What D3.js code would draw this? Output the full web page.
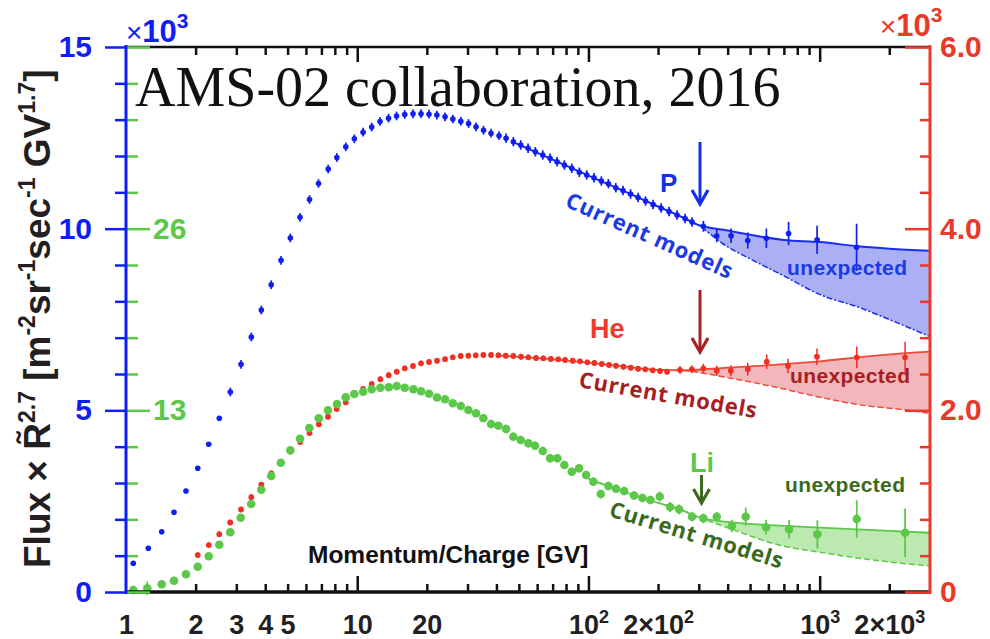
<!DOCTYPE html>
<html><head><meta charset="utf-8">
<script src="https://cdn.jsdelivr.net/npm/d3@7/dist/d3.min.js"></script>
<style>
html,body{margin:0;padding:0;background:#fff;}
svg{display:block;}
</style></head>
<body>
<svg id="chart" width="990" height="639"></svg>
<script>
// ---------------- DATA ----------------
// Proton (left blue axis, x10^3)
const pR = [1.075,1.249,1.427,1.613,1.817,2.043,2.279,2.532,2.826,3.144,3.483,3.848,4.246,4.682,5.136,5.656,6.218,6.802,7.490,8.162,8.926,9.716,10.60,11.55,12.55,13.66,14.79,16.05,17.43,18.88,20.44,22.10,23.98,25.92,28.06,30.30,32.65,35.18,37.91,41.06,44.02,47.33,50.95,54.81,58.93,63.45,68.24,73.14,78.66,84.70,91.34,98.33,105.7,113.7,122.0,131.3,141.1,152.1,163.9,176.6,190.3,206.1,223.2,241.6,261.7,280.6,314.1,358.8,413.9,488.7,588.0,733.8,974.6,1444];
const pV = [0.790,1.203,1.660,2.194,2.780,3.405,4.065,4.781,5.505,6.267,7.018,7.761,8.458,9.130,9.743,10.313,10.803,11.243,11.642,11.959,12.253,12.474,12.655,12.798,12.950,13.040,13.101,13.142,13.162,13.164,13.151,13.128,13.079,13.018,12.958,12.894,12.804,12.710,12.628,12.559,12.487,12.394,12.303,12.212,12.118,12.028,11.937,11.843,11.752,11.662,11.552,11.477,11.403,11.312,11.238,11.128,11.050,10.954,10.858,10.761,10.665,10.569,10.472,10.376,10.280,10.183,10.065,9.798,9.804,9.674,9.735,9.867,9.693,9.487];
const pE = [0.04,0.04,0.04,0.04,0.04,0.04,0.04,0.04,0.12,0.12,0.12,0.12,0.12,0.12,0.12,0.12,0.12,0.12,0.12,0.12,0.12,0.12,0.12,0.12,0.12,0.12,0.12,0.12,0.12,0.12,0.12,0.12,0.12,0.12,0.12,0.12,0.12,0.12,0.12,0.12,0.13,0.13,0.13,0.13,0.13,0.13,0.13,0.13,0.13,0.13,0.13,0.13,0.13,0.13,0.13,0.13,0.13,0.13,0.13,0.13,0.13,0.13,0.13,0.13,0.13,0.13,0.15,0.17,0.2,0.22,0.27,0.32,0.39,0.65];
// Helium (right red axis, x10^3)
const heR = [2.043,2.281,2.532,2.823,3.144,3.483,3.848,4.251,4.668,5.146,5.667,6.218,6.823,7.475,8.152,8.918,9.716,10.60,11.55,12.59,13.68,14.82,16.05,17.43,18.88,20.44,22.14,23.98,25.89,28.03,30.24,32.55,35.11,37.91,40.78,43.88,47.33,51.10,54.96,59.35,63.83,68.71,74.11,79.21,85.52,91.99,98.90,106.1,114.2,122.8,131.6,141.6,152.4,163.9,176.2,189.7,204.0,218.8,249.0,279.8,314.1,358.8,412.7,488.7,590.4,729.5,973.4,1447,2341];
const heV = [0.407,0.517,0.636,0.765,0.908,1.044,1.181,1.307,1.423,1.547,1.651,1.750,1.846,1.930,2.015,2.088,2.171,2.235,2.290,2.342,2.386,2.425,2.463,2.488,2.518,2.532,2.546,2.563,2.584,2.598,2.601,2.606,2.609,2.609,2.606,2.601,2.598,2.590,2.584,2.576,2.573,2.565,2.562,2.554,2.546,2.540,2.529,2.521,2.510,2.499,2.491,2.480,2.469,2.458,2.452,2.441,2.433,2.425,2.444,2.452,2.463,2.436,2.436,2.452,2.535,2.488,2.590,2.584,2.584];
const heE = [0.03,0.03,0.03,0.03,0.03,0.03,0.03,0.03,0.03,0.03,0.03,0.03,0.03,0.03,0.03,0.03,0.03,0.03,0.03,0.03,0.03,0.03,0.03,0.03,0.03,0.03,0.03,0.03,0.03,0.03,0.03,0.03,0.03,0.03,0.03,0.03,0.03,0.03,0.03,0.03,0.03,0.03,0.03,0.03,0.03,0.03,0.03,0.03,0.03,0.03,0.03,0.03,0.03,0.03,0.03,0.03,0.03,0.03,0.04,0.045,0.05,0.055,0.06,0.07,0.08,0.08,0.09,0.12,0.17];
// Lithium (green inner axis)
const liR = [1.075,1.236,1.427,1.613,1.817,2.043,2.279,2.532,2.823,3.134,3.479,3.845,4.246,4.673,5.136,5.656,6.205,6.817,7.475,8.177,8.918,9.716,10.60,11.55,12.59,13.68,14.82,16.05,17.49,18.88,20.44,22.14,23.98,25.89,28.03,30.24,32.65,35.11,37.91,40.78,44.02,47.33,50.95,54.96,58.75,63.45,68.24,73.36,78.66,84.70,91.07,97.63,105.0,113.0,122.0,131.6,142.6,157.5,171.1,185.3,203.4,225.4,246.6,280.6,314.1,358.8,416.8,479.0,586.3,737.6,977.5,1447,2341];
const liV = [0.143,0.265,0.551,0.809,1.267,1.811,2.555,3.385,4.272,5.317,6.297,7.314,8.301,9.253,10.140,10.963,11.736,12.430,13.003,13.454,13.933,14.169,14.334,14.506,14.620,14.649,14.742,14.620,14.506,14.362,14.191,13.919,13.797,13.504,13.311,13.024,12.788,12.430,12.022,11.901,11.665,11.113,10.877,10.641,10.469,10.090,9.568,9.568,9.088,8.609,8.852,8.373,7.893,7.013,7.586,7.392,7.228,6.906,6.727,6.584,6.834,6.083,5.918,5.389,5.274,5.389,4.723,5.389,4.630,4.487,4.129,5.224,4.244];
const liE = [0.3,0.48,0.15,0.15,0.15,0.15,0.15,0.15,0.15,0.15,0.25,0.25,0.25,0.25,0.25,0.25,0.25,0.25,0.25,0.25,0.25,0.25,0.25,0.25,0.25,0.25,0.25,0.25,0.25,0.25,0.25,0.25,0.25,0.25,0.25,0.25,0.25,0.25,0.25,0.25,0.3,0.3,0.3,0.3,0.3,0.3,0.3,0.3,0.3,0.3,0.3,0.3,0.3,0.3,0.3,0.3,0.3,0.3,0.3,0.3,0.35,0.35,0.35,0.35,0.35,0.35,0.45,0.65,0.54,0.65,1.0,1.34,1.74];
// Fits (solid) and "current models" (dashed)
const pFitR = [47,70,100,150,200,250,294,400,500,700,1000,1500,2000,3000];
const pFitV = [12.39,11.9,11.46,10.97,10.61,10.34,10.12,9.95,9.83,9.69,9.63,9.51,9.45,9.39];
const pModR = [200,250,294,400,500,700,1000,1500,2000,3000];
const pModV = [10.61,10.34,10.12,9.5,9.17,8.70,8.19,7.82,7.50,7.03];
const heFitR = [40,60,100,150,200,250,400,632,1000,1500,2350,3000];
const heFitV = [2.606,2.575,2.525,2.475,2.445,2.44,2.47,2.50,2.54,2.585,2.63,2.646];
const heModR = [150,200,250,400,632,1000,1500,2350,3000];
const heModV = [2.475,2.445,2.44,2.36,2.26,2.145,2.06,2.004,1.967];
const liFitR = [100,150,203,250,300,400,671,1000,1302,2000,3000];
const liFitV = [8.1,7.05,6.35,5.9,5.35,5.02,4.75,4.6,4.52,4.37,4.24];
const liModR = [100,150,203,250,300,400,671,1000,1302,2000,3000];
const liModV = [8.1,7.05,6.35,5.9,5.35,4.6,3.35,2.85,2.55,2.15,1.86];
// Ticks
const xTickValues = [1,2,3,4,5,10,20,100,200,1000,2000];
const xTickLabels = ["1","2","3","4","5","10","20","10^2","2\u00d710^2","10^3","2\u00d710^3"];
const xMinorTicks = [2,3,4,5,6,7,8,9,20,30,40,50,60,70,80,90,200,300,400,500,600,700,800,900,2000];
const xMajorTicks = [10,100,1000];
const pMajorTicks = [0,5,10,15];
const pTickLabels = ["0","5","10","15"];
const pMinorTicks = [1,2,3,4,6,7,8,9,11,12,13,14];
const liMajorTicks = [0,13,26,39];
const liTickLabels = ["","13","26",""];
const liMinorTicks = [2.6,5.2,7.8,10.4,15.6,18.2,20.8,23.4,28.6,31.2,33.8,36.4];
const heMajorTicks = [0,2,4,6];
const heTickLabels = ["0","2.0","4.0","6.0"];
const heMinorTicks = [0.4,0.8,1.2,1.6,2.4,2.8,3.2,3.6,4.4,4.8,5.2,5.6];

// ---------------- DRAW ----------------
const SANS = '"Liberation Sans", Arial, Helvetica, sans-serif';
const ROUND = '"Open Sans", Lato, sans-serif';
const BLUE = "#0f1ef2", RED = "#e8392b", GREEN = "#5cc84a";
const svg = d3.select("#chart");
const x = d3.scaleLog().domain([1,3000]).range([126,930]);
const yP = d3.scaleLinear().domain([0,15]).range([592,47]);
const yHe = d3.scaleLinear().domain([0,6]).range([592,47]);
const yLi = d3.scaleLinear().domain([0,39]).range([592,47]);

function band(fitR, fitV, modR, modV, start, y, color){
  const pts = modR.map((r,i)=>({r, lo:modV[i], hi:fitV[fitR.indexOf(r)]}))
                  .filter(d=>d.r>=start && fitR.indexOf(d.r)>=0);
  svg.append("path").datum(pts)
    .attr("d", d3.area().x(d=>x(d.r)).y0(d=>y(d.lo)).y1(d=>y(d.hi)).curve(d3.curveMonotoneX))
    .attr("fill", color).attr("stroke","none");
}
function curve(R, V, y, color, dash, w){
  svg.append("path").datum(R.map((r,i)=>[r,V[i]]))
    .attr("d", d3.line().x(d=>x(d[0])).y(d=>y(d[1])).curve(d3.curveMonotoneX))
    .attr("fill","none").attr("stroke",color).attr("stroke-width",w)
    .attr("stroke-dasharray", dash || null);
}
function points(R, V, E, y, color, r, w){
  const data = R.map((v,i)=>({r:v, v:V[i], e:E[i]}));
  const g = svg.append("g");
  g.selectAll("line").data(data).join("line")
    .attr("x1",d=>x(d.r)).attr("x2",d=>x(d.r))
    .attr("y1",d=>y(d.v-d.e)).attr("y2",d=>y(d.v+d.e))
    .attr("stroke",color).attr("stroke-width",w);
  g.selectAll("circle").data(data).join("circle")
    .attr("cx",d=>x(d.r)).attr("cy",d=>y(d.v)).attr("r",r).attr("fill",color);
}

band(pFitR,pFitV,pModR,pModV,294,yP,"#abb0f4");
band(heFitR,heFitV,heModR,heModV,250,yHe,"#f2b7bb");
band(liFitR,liFitV,liModR,liModV,300,yLi,"#bbe9b0");

curve(pModR,pModV,yP,"#1a2cf0","6,2,2,2",1.5);
curve(heModR,heModV,yHe,"#ee4a3a","6,3",1.5);
curve(liModR,liModV,yLi,"#5cc84a","6,3",1.5);
curve(pFitR,pFitV,yP,"#1a2cf0",null,2);
curve(heFitR,heFitV,yHe,"#ee4a3a",null,1.8);
curve(liFitR,liFitV,yLi,"#5cc84a",null,1.8);

points(heR,heV,heE,yHe,"#ee3124",2.9,1.5);
points(liR,liV,liE,yLi,GREEN,4.3,1.8);
points(pR,pV,pE,yP,BLUE,2.8,1.7);

// frame lines
svg.append("line").attr("x1",126).attr("x2",930).attr("y1",47).attr("y2",47).attr("stroke","#111").attr("stroke-width",2.5);
svg.append("line").attr("x1",126).attr("x2",930).attr("y1",592).attr("y2",592).attr("stroke","#111").attr("stroke-width",3.5);

function xAxis(yPos, orient, vals, size){
  const ax = (orient==="bottom"?d3.axisBottom(x):d3.axisTop(x))
    .tickValues(vals).tickSize(size).tickSizeOuter(0).tickFormat("");
  const g = svg.append("g").attr("transform",`translate(0,${yPos})`).call(ax);
  g.select(".domain").remove();
  g.selectAll(".tick line").attr("stroke","#111").attr("stroke-width",2.5);
}
xAxis(592,"bottom",xMinorTicks,-8);
xAxis(592,"bottom",xMajorTicks,-16);
xAxis(47,"top",xMinorTicks,-8);
xAxis(47,"top",xMajorTicks,-15);

// x tick labels
const gxl = svg.append("g").attr("transform","translate(0,592)")
  .call(d3.axisBottom(x).tickValues(xTickValues).tickSize(0).tickPadding(23).tickFormat(""));
gxl.select(".domain").remove();
gxl.attr("font-size",27).attr("font-family",SANS).attr("font-weight","bold");
gxl.selectAll(".tick text").attr("fill","#231f20").each(function(d,i){
  const parts = xTickLabels[i].split("^");
  const t = d3.select(this);
  t.append("tspan").text(parts[0]);
  if (parts[1]) t.append("tspan").attr("dy",-11).attr("font-size",18).text(parts[1]);
});

function yAxis(scale, xPos, orient, vals, size, labels, color, fs, pad){
  const gen = (orient==="left"?d3.axisLeft(scale):d3.axisRight(scale))
    .tickValues(vals).tickSize(size).tickSizeOuter(0).tickPadding(pad||3)
    .tickFormat((d,i)=>labels?labels[i]:"");
  const g = svg.append("g").attr("transform",`translate(${xPos},0)`).call(gen);
  g.select(".domain").remove();
  g.selectAll(".tick line").attr("stroke",color).attr("stroke-width",2.5);
  g.attr("font-size",fs||10).attr("font-family",SANS).attr("font-weight","bold");
  g.selectAll(".tick text").attr("fill",color);
  return g;
}
yAxis(yLi,126,"right",liMinorTicks,12,null,GREEN);
yAxis(yLi,126,"right",liMajorTicks,24,liTickLabels,GREEN,30,3);
yAxis(yP,126,"left",pMinorTicks,11,null,BLUE);
yAxis(yP,126,"left",pMajorTicks,21,pTickLabels,BLUE,30,13);
yAxis(yHe,930,"left",heMinorTicks,10,null,RED);
yAxis(yHe,930,"right",heMajorTicks,-25,heTickLabels,RED,30,10);

svg.append("line").attr("x1",126).attr("x2",126).attr("y1",45).attr("y2",594).attr("stroke",BLUE).attr("stroke-width",3);
svg.append("line").attr("x1",930).attr("x2",930).attr("y1",45).attr("y2",594).attr("stroke",RED).attr("stroke-width",3);

// x10^3 multipliers
function mult(x0, y0, color){
  const t = svg.append("text").attr("x",x0).attr("y",y0).attr("fill",color).attr("font-family",SANS);
  t.append("tspan").attr("font-size",28).text("\u00d7");
  t.append("tspan").attr("font-size",31).attr("font-weight","bold").text("10");
  t.append("tspan").attr("font-size",21).attr("font-weight","bold").attr("dy",-14).text("3");
}
mult(126,42,BLUE);
mult(880,36,RED);

// title
svg.append("text").attr("x",135).attr("y",106).attr("font-family",'"Liberation Serif","Times New Roman",serif')
  .attr("font-size",56).attr("fill","#111").text("AMS-02 collaboration, 2016");

// y-axis title
const yt = svg.append("text").attr("transform","translate(50,568) rotate(-90)")
  .attr("font-family",SANS).attr("font-weight","bold").attr("font-size",37).attr("fill","#231f20");
[["Flux \u00d7 R\u0303",0],["2.7",1],[" [m",0],["-2",1],["sr",0],["-1",1],["sec",0],["-1",1],[" GV",0],["1.7",1],["]",0]]
.forEach(([s,sup],i,arr)=>{
  const ts = yt.append("tspan").text(s);
  if (sup){ ts.attr("font-size",23).attr("dy",-15); }
  else if (i>0 && arr[i-1][1]) ts.attr("dy",15);
});

// x-axis title
svg.append("text").attr("x",308).attr("y",563).attr("font-family",SANS).attr("font-weight","bold")
  .attr("font-size",24.5).attr("fill","#111").text("Momentum/Charge [GV]");

// species labels
function label(s, x0, y0, color, fs){
  svg.append("text").attr("x",x0).attr("y",y0).attr("font-family",SANS).attr("font-weight","bold")
    .attr("font-size",fs).attr("fill",color).text(s);
}
label("P",660,192,"#1530ea",26);
label("He",590,338,"#ee3b2b",27);
label("Li",690,472,GREEN,27);

// arrows
function arrow(x0, y1, y2, color){
  svg.append("line").attr("x1",x0).attr("x2",x0).attr("y1",y1).attr("y2",y2-2).attr("stroke",color).attr("stroke-width",3);
  svg.append("path").attr("d",`M${x0-8},${y2-14}L${x0},${y2}L${x0+8},${y2-14}`)
    .attr("fill","none").attr("stroke",color).attr("stroke-width",3.2).attr("stroke-linejoin","miter");
}
arrow(700,142,204,"#1530ea");
arrow(700,290,352,"#a82020");
arrow(701.5,475,503,"#3d6b1e");

// "Current models" labels
function rot(s, x0, y0, ang, color, len){
  svg.append("text").attr("transform",`translate(${x0},${y0}) rotate(${ang})`)
    .attr("font-family",ROUND).attr("font-weight","bold").attr("font-size",22)
    .attr("fill",color).attr("textLength",len).attr("lengthAdjust","spacing").text(s);
}
rot("Current models",564,206,24,"#1a3ae6",180);
rot("Current models",578,387,10,"#a81e1e",180);
rot("Current models",608,516,17,"#3a6b1c",180);

function unexp(x0,y0,color){
  svg.append("text").attr("x",x0).attr("y",y0).attr("font-family",SANS).attr("font-weight","bold")
    .attr("font-size",21).attr("fill",color).attr("textLength",120).attr("lengthAdjust","spacing").text("unexpected");
}
unexp(787,275,"#1a3ae6");
unexp(790,383,"#a81e1e");
unexp(785,492,"#3a6b1c");
</script>
</body></html>
